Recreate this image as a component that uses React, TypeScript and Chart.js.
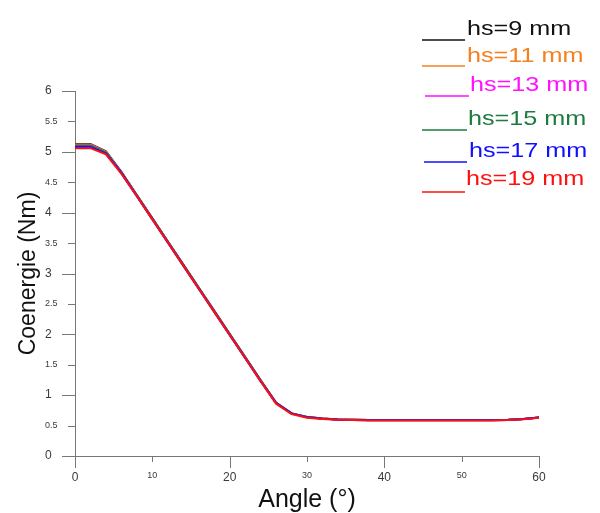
import { useEffect, useRef } from "react";
import { Chart, registerables } from "chart.js";

Chart.register(...registerables);

// Rotor angle in degrees
const angles = [0, 2, 4, 6, 8, 10, 12, 14, 16, 18, 20, 22, 24, 26, 28, 30, 32, 34, 36, 38, 40, 42, 44, 46, 48, 50, 52, 54, 56, 58, 60];

// Coenergy (Nm) for each magnet height hs
const hs9 = [5.13, 5.13, 5.01, 4.67, 4.29, 3.91, 3.53, 3.15, 2.77, 2.39, 2.01, 1.63, 1.25, 0.88, 0.70, 0.640, 0.615, 0.600, 0.595, 0.590, 0.590, 0.590, 0.590, 0.590, 0.590, 0.590, 0.590, 0.590, 0.595, 0.610, 0.635];
const hs11 = [5.12, 5.12, 5.00, 4.66, 4.28, 3.90, 3.52, 3.14, 2.76, 2.38, 2.00, 1.62, 1.24, 0.87, 0.70, 0.640, 0.615, 0.600, 0.595, 0.590, 0.590, 0.590, 0.590, 0.590, 0.590, 0.590, 0.590, 0.590, 0.595, 0.610, 0.635];
const hs13 = [5.11, 5.11, 4.99, 4.66, 4.28, 3.90, 3.52, 3.14, 2.76, 2.38, 2.00, 1.62, 1.24, 0.87, 0.70, 0.640, 0.615, 0.600, 0.595, 0.590, 0.590, 0.590, 0.590, 0.590, 0.590, 0.590, 0.590, 0.590, 0.595, 0.610, 0.635];
const hs15 = [5.10, 5.10, 4.99, 4.65, 4.28, 3.90, 3.52, 3.14, 2.76, 2.38, 2.00, 1.62, 1.24, 0.87, 0.70, 0.640, 0.615, 0.600, 0.595, 0.590, 0.590, 0.590, 0.590, 0.590, 0.590, 0.590, 0.590, 0.590, 0.595, 0.610, 0.635];
const hs17 = [5.08, 5.08, 4.97, 4.65, 4.27, 3.89, 3.51, 3.13, 2.75, 2.37, 1.99, 1.61, 1.23, 0.87, 0.70, 0.635, 0.612, 0.598, 0.592, 0.588, 0.588, 0.588, 0.588, 0.588, 0.588, 0.588, 0.588, 0.588, 0.593, 0.608, 0.633];
const hs19 = [5.06, 5.06, 4.96, 4.64, 4.27, 3.89, 3.51, 3.13, 2.75, 2.37, 1.99, 1.61, 1.23, 0.86, 0.69, 0.630, 0.610, 0.595, 0.590, 0.585, 0.585, 0.585, 0.585, 0.585, 0.585, 0.585, 0.585, 0.585, 0.590, 0.605, 0.630];

const seriesLabels = ["hs=9 mm", "hs=11 mm", "hs=13 mm", "hs=15 mm", "hs=17 mm", "hs=19 mm"];
const seriesValues = [hs9, hs11, hs13, hs15, hs17, hs19];
const seriesColors = ["#111111", "#f5801e", "#ff10ff", "#1f7a40", "#1010ff", "#ff1010"];

const FONT = "'Liberation Sans', Arial, sans-serif";
const AXIS_COLOR = "#777777";
const TICK_TEXT = "#3a3a3a";

// Legend rows: [line y, line x1, line x2, text x, text baseline]
const legendRows = [
  [40, 422, 465, 467, 35],
  [66, 422, 465, 467, 61.5],
  [96, 425, 469, 470, 90.5],
  [130, 422, 467, 468, 125],
  [162, 424, 467, 469, 156.5],
  [192, 422, 465, 466, 185],
];

const tickMarks = {
  id: "tickMarks",
  beforeDatasetsDraw(chart: any) {
    const { ctx, scales } = chart;
    const x = scales.x;
    const y = scales.y;
    ctx.save();
    ctx.strokeStyle = AXIS_COLOR;
    ctx.lineWidth = 1;
    ctx.beginPath();
    for (const t of y.ticks) {
      const py = Math.round(y.getPixelForValue(t.value)) + 0.5;
      const len = t.value % 1 === 0 ? 13 : 7;
      ctx.moveTo(x.left - len, py);
      ctx.lineTo(x.left, py);
    }
    for (const t of x.ticks) {
      const px = Math.round(x.getPixelForValue(t.value)) + 0.5;
      const len = t.value % 20 === 0 ? 12 : 6;
      ctx.moveTo(px, y.bottom);
      ctx.lineTo(px, y.bottom + len);
    }
    ctx.stroke();
    ctx.restore();
  },
};

const textLegend = {
  id: "textLegend",
  afterDraw(chart: any) {
    const { ctx } = chart;
    ctx.save();
    legendRows.forEach((row, i) => {
      const [ly, x1, x2, tx, tb] = row;
      ctx.strokeStyle = seriesColors[i];
      ctx.lineWidth = 1.6;
      ctx.beginPath();
      ctx.moveTo(x1, ly);
      ctx.lineTo(x2, ly);
      ctx.stroke();
      ctx.save();
      ctx.translate(tx, tb);
      ctx.scale(1.2, 1);
      ctx.fillStyle = seriesColors[i];
      ctx.font = `21px ${FONT}`;
      ctx.textAlign = "left";
      ctx.textBaseline = "alphabetic";
      ctx.fillText(seriesLabels[i], 0, 0);
      ctx.restore();
    });
    ctx.restore();
  },
};

export default function App() {
  const canvasRef = useRef<HTMLCanvasElement>(null);

  useEffect(() => {
    if (!canvasRef.current) return;
    const chart = new Chart(canvasRef.current, {
      type: "line",
      data: {
        datasets: seriesValues.map((vals, i) => ({
          label: seriesLabels[i],
          data: angles.map((a, j) => ({ x: a, y: vals[j] })),
          borderColor: seriesColors[i],
          backgroundColor: seriesColors[i],
          borderWidth: 2,
          pointRadius: 0,
          tension: 0,
          order: seriesLabels.length - 1 - i,
        })),
      },
      options: {
        animation: false,
        responsive: true,
        maintainAspectRatio: false,
        devicePixelRatio: 1,
        layout: { padding: { top: 91, right: 61, left: 45, bottom: 0 } },
        plugins: {
          legend: { display: false },
          tooltip: { enabled: false },
        },
        scales: {
          x: {
            type: "linear",
            min: 0,
            max: 60,
            ticks: {
              stepSize: 10,
              padding: 14,
              color: TICK_TEXT,
              maxRotation: 0,
              callback: (v: any) => String(v),
              font: (c: any) => ({ family: FONT, size: c.tick && c.tick.value % 20 === 0 ? 12 : 9 }),
            },
            grid: { display: false, drawTicks: false },
            border: { display: true, color: AXIS_COLOR, width: 1 },
            title: {
              display: true,
              text: "Angle (°)",
              color: "#111111",
              font: { family: FONT, size: 25, lineHeight: 1 },
              padding: { top: 0, bottom: 0 },
            },
            afterFit(scale: any) {
              scale.height = 57;
            },
          },
          y: {
            type: "linear",
            min: 0,
            max: 6,
            ticks: {
              stepSize: 0.5,
              crossAlign: "far",
              color: TICK_TEXT,
              callback: (v: any) => String(v),
              font: (c: any) => ({ family: FONT, size: c.tick && c.tick.value % 1 === 0 ? 12 : 9 }),
            },
            grid: { display: false, drawTicks: false },
            border: { display: true, color: AXIS_COLOR, width: 1 },
            title: {
              display: true,
              text: "Coenergie (Nm)",
              color: "#111111",
              font: { family: FONT, size: 23 },
              padding: { top: -30, bottom: 0 },
            },
            afterFit(scale: any) {
              scale.width = 30;
            },
          },
        },
      },
      plugins: [tickMarks, textLegend],
    });
    return () => chart.destroy();
  }, []);

  return (
    <div style={{ position: "absolute", left: 0, top: 0, width: 600, height: 513, background: "#ffffff" }}>
      <canvas ref={canvasRef} style={{ display: "block" }} />
    </div>
  );
}
